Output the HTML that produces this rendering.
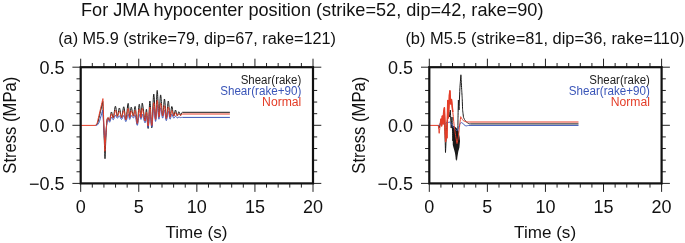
<!DOCTYPE html>
<html><head><meta charset="utf-8"><title>Stress</title>
<style>
html,body{margin:0;padding:0;background:#fff;width:685px;height:243px;overflow:hidden}
svg{display:block;font-family:"Liberation Sans", sans-serif;will-change:transform}
</style></head><body>
<svg width="685" height="243" viewBox="0 0 685 243"><rect width="685" height="243" fill="#fff"/><text x="81.0" y="15.8" font-size="18.5" textLength="462.5" lengthAdjust="spacingAndGlyphs" fill="#111">For JMA hypocenter position (strike=52, dip=42, rake=90)</text><text x="58.2" y="44.4" font-size="17.3" textLength="277.8" lengthAdjust="spacingAndGlyphs" fill="#111">(a) M5.9 (strike=79, dip=67, rake=121)</text><text x="405.4" y="44.4" font-size="17.3" textLength="279.1" lengthAdjust="spacingAndGlyphs" fill="#111">(b) M5.5 (strike=81, dip=36, rake=110)</text><path d="M95.60,125.30C95.60,125.30 96.60,124.75 97.00,124.20C97.40,123.65 98.00,122.00 98.00,122.00C98.00,122.00 102.80,101.50 102.80,101.50C102.80,101.50 105.00,158.70 105.00,158.70C105.00,158.70 106.10,130.80 106.60,124.00C107.10,117.20 107.50,118.52 108.00,117.90C108.50,117.28 109.03,121.28 109.60,120.30C110.17,119.32 110.78,112.42 111.40,112.00C112.02,111.58 112.63,118.77 113.30,117.80C113.97,116.83 114.73,106.45 115.40,106.20C116.07,105.95 116.63,116.00 117.30,116.30C117.97,116.60 118.68,107.80 119.40,108.00C120.12,108.20 120.87,117.70 121.60,117.50C122.33,117.30 123.08,106.43 123.80,106.80C124.52,107.17 125.18,120.27 125.90,119.70C126.62,119.13 127.47,103.77 128.10,103.40C128.73,103.03 129.18,116.88 129.70,117.50C130.22,118.12 130.58,107.33 131.20,107.10C131.82,106.87 132.73,116.20 133.40,116.10C134.07,116.00 134.55,105.28 135.20,106.50C135.85,107.72 136.63,123.77 137.30,123.40C137.97,123.03 138.58,105.28 139.20,104.30C139.82,103.32 140.48,117.68 141.00,117.50C141.52,117.32 141.63,102.63 142.30,103.20C142.97,103.77 144.30,119.88 145.00,120.90C145.70,121.92 145.97,108.05 146.50,109.30C147.03,110.55 147.63,129.78 148.20,128.40C148.77,127.02 149.30,101.10 149.90,101.00C150.50,100.90 151.17,128.95 151.80,127.80C152.43,126.65 153.07,95.53 153.70,94.10C154.33,92.67 155.02,119.82 155.60,119.20C156.18,118.58 156.65,90.77 157.20,90.40C157.75,90.03 158.33,116.25 158.90,117.00C159.47,117.75 159.98,95.08 160.60,94.90C161.22,94.72 161.95,115.22 162.60,115.90C163.25,116.58 163.88,98.57 164.50,99.00C165.12,99.43 165.67,118.17 166.30,118.50C166.93,118.83 167.68,101.25 168.30,101.00C168.92,100.75 169.42,116.08 170.00,117.00C170.58,117.92 171.18,106.68 171.80,106.50C172.42,106.32 173.08,115.32 173.70,115.90C174.32,116.48 174.92,110.03 175.50,110.00C176.08,109.97 176.63,115.42 177.20,115.70C177.77,115.98 178.33,111.75 178.90,111.70C179.47,111.65 180.00,115.30 180.60,115.40C181.20,115.50 180.60,112.82 182.50,112.30L229.90,112.30" fill="none" stroke="#1a1a1a" stroke-width="1.0" stroke-linejoin="round" stroke-opacity="1"/><path d="M95.60,125.30C95.60,125.30 96.88,125.35 97.50,124.80C98.12,124.25 99.30,122.00 99.30,122.00C99.30,122.00 102.70,110.00 102.70,110.00C102.70,110.00 104.90,145.00 104.90,145.00C104.90,145.00 106.08,130.27 106.60,126.00C107.12,121.73 107.50,119.99 108.00,119.36C108.50,118.73 109.03,122.54 109.60,122.20C110.17,121.86 110.78,117.71 111.40,117.30C112.02,116.88 112.63,120.04 113.30,119.70C113.97,119.36 114.73,115.52 115.40,115.27C116.07,115.02 116.63,118.09 117.30,118.20C117.97,118.31 118.68,115.70 119.40,115.90C120.12,116.10 120.87,119.47 121.60,119.40C122.33,119.33 123.08,115.11 123.80,115.48C124.52,115.84 125.18,121.80 125.90,121.60C126.62,121.40 127.47,114.65 128.10,114.29C128.73,113.92 129.18,119.18 129.70,119.40C130.22,119.62 130.58,115.81 131.20,115.58C131.82,115.35 132.73,118.03 133.40,118.00C134.07,117.97 134.55,114.15 135.20,115.37C135.85,116.59 136.63,125.43 137.30,125.30C137.97,125.17 138.58,115.58 139.20,114.60C139.82,113.62 140.48,119.46 141.00,119.40C141.52,119.34 141.63,113.65 142.30,114.22C142.97,114.78 144.30,122.54 145.00,122.80C145.70,123.06 145.97,114.95 146.50,115.75C147.03,116.55 147.63,128.36 148.20,127.60C148.77,126.84 149.30,111.28 149.90,111.19C150.50,111.09 151.17,127.63 151.80,127.00C152.43,126.37 153.07,108.32 153.70,107.39C154.33,106.46 155.02,121.74 155.60,121.40C156.18,121.06 156.65,105.72 157.20,105.36C157.75,104.99 158.33,118.79 158.90,119.20C159.47,119.61 159.98,108.01 160.60,107.83C161.22,107.65 161.95,117.72 162.60,118.10C163.25,118.48 163.88,109.65 164.50,110.09C165.12,110.52 165.67,120.52 166.30,120.70C166.93,120.88 167.68,111.44 168.30,111.19C168.92,110.94 169.42,118.70 170.00,119.20C170.58,119.70 171.18,114.39 171.80,114.21C172.42,114.03 173.08,117.78 173.70,118.10C174.32,118.42 174.92,116.17 175.50,116.14C176.08,116.10 176.63,117.74 177.20,117.90C177.77,118.06 178.33,117.12 178.90,117.07C179.47,117.02 180.00,117.54 180.60,117.60C181.20,117.66 180.60,117.43 182.50,117.40L229.90,117.40" fill="none" stroke="#3a55b8" stroke-width="1.0" stroke-linejoin="round" stroke-opacity="1"/><path d="M80.70,125.40L95.30,125.40C95.30,125.40 95.98,125.20 96.30,124.80C96.62,124.40 97.20,123.00 97.20,123.00C97.20,123.00 102.90,98.60 102.90,98.60C102.90,98.60 104.90,151.30 104.90,151.30C104.90,151.30 106.08,130.14 106.60,124.50C107.12,118.86 107.50,118.16 108.00,117.47C108.50,116.79 109.03,121.01 109.60,120.40C110.17,119.79 110.78,114.23 111.40,113.81C112.02,113.40 112.63,118.50 113.30,117.90C113.97,117.30 114.73,110.47 115.40,110.22C116.07,109.97 116.63,116.21 117.30,116.40C117.97,116.59 118.68,111.13 119.40,111.33C120.12,111.53 120.87,117.72 121.60,117.60C122.33,117.48 123.08,110.22 123.80,110.59C124.52,110.96 125.18,120.15 125.90,119.80C126.62,119.45 127.47,108.85 128.10,108.48C128.73,108.12 129.18,117.22 129.70,117.60C130.22,117.98 130.58,111.01 131.20,110.78C131.82,110.54 132.73,116.26 133.40,116.20C134.07,116.14 134.55,109.19 135.20,110.40C135.85,111.62 136.63,123.73 137.30,123.50C137.97,123.27 138.58,110.02 139.20,109.04C139.82,108.06 140.48,117.71 141.00,117.60C141.52,117.49 141.63,107.79 142.30,108.36C142.97,108.92 144.30,120.37 145.00,121.00C145.70,121.63 145.97,111.29 146.50,112.14C147.03,112.99 147.63,126.96 148.20,126.10C148.77,125.24 149.30,107.09 149.90,106.99C150.50,106.89 151.17,126.21 151.80,125.50C152.43,124.79 153.07,103.73 153.70,102.72C154.33,101.70 155.02,119.78 155.60,119.40C156.18,119.02 156.65,100.79 157.20,100.42C157.75,100.06 158.33,116.73 158.90,117.20C159.47,117.67 159.98,103.40 160.60,103.21C161.22,103.03 161.95,115.68 162.60,116.10C163.25,116.52 163.88,105.32 164.50,105.75C165.12,106.19 165.67,118.49 166.30,118.70C166.93,118.91 167.68,107.24 168.30,106.99C168.92,106.74 169.42,116.63 170.00,117.20C170.58,117.77 171.18,110.59 171.80,110.40C172.42,110.22 173.08,115.74 173.70,116.10C174.32,116.46 174.92,112.61 175.50,112.57C176.08,112.54 176.63,115.72 177.20,115.90C177.77,116.08 178.33,113.68 178.90,113.63C179.47,113.58 180.00,115.54 180.60,115.60C181.20,115.66 180.60,114.27 182.50,114.00L229.90,114.00" fill="none" stroke="#e43d28" stroke-width="1.0" stroke-linejoin="round" stroke-opacity="1"/><path d="M80.70,67.20v-8.5M80.70,183.40v8.5M92.31,67.20v-4.2M92.31,183.40v4.2M103.93,67.20v-4.2M103.93,183.40v4.2M115.55,67.20v-4.2M115.55,183.40v4.2M127.16,67.20v-4.2M127.16,183.40v4.2M138.78,67.20v-8.5M138.78,183.40v8.5M150.39,67.20v-4.2M150.39,183.40v4.2M162.00,67.20v-4.2M162.00,183.40v4.2M173.62,67.20v-4.2M173.62,183.40v4.2M185.24,67.20v-4.2M185.24,183.40v4.2M196.85,67.20v-8.5M196.85,183.40v8.5M208.47,67.20v-4.2M208.47,183.40v4.2M220.08,67.20v-4.2M220.08,183.40v4.2M231.69,67.20v-4.2M231.69,183.40v4.2M243.31,67.20v-4.2M243.31,183.40v4.2M254.93,67.20v-8.5M254.93,183.40v8.5M266.54,67.20v-4.2M266.54,183.40v4.2M278.16,67.20v-4.2M278.16,183.40v4.2M289.77,67.20v-4.2M289.77,183.40v4.2M301.38,67.20v-4.2M301.38,183.40v4.2M313.00,67.20v-8.5M313.00,183.40v8.5M80.70,67.20h-8.3M313.00,67.20h8.3M80.70,78.82h-4.2M313.00,78.82h4.2M80.70,90.44h-4.2M313.00,90.44h4.2M80.70,102.06h-4.2M313.00,102.06h4.2M80.70,113.68h-4.2M313.00,113.68h4.2M80.70,125.30h-8.3M313.00,125.30h8.3M80.70,136.92h-4.2M313.00,136.92h4.2M80.70,148.54h-4.2M313.00,148.54h4.2M80.70,160.16h-4.2M313.00,160.16h4.2M80.70,171.78h-4.2M313.00,171.78h4.2M80.70,183.40h-8.3M313.00,183.40h8.3" stroke="#222" stroke-width="1" fill="none"/><rect x="80.70" y="67.20" width="232.30" height="116.20" fill="none" stroke="#111" stroke-width="2.2"/><text x="64.50" y="73.60" font-size="18" text-anchor="end" fill="#111">0.5</text><text x="64.50" y="131.70" font-size="18" text-anchor="end" fill="#111">0.0</text><text x="64.50" y="189.80" font-size="18" text-anchor="end" fill="#111">−0.5</text><text x="80.70" y="212.8" font-size="18" text-anchor="middle" fill="#111">0</text><text x="138.78" y="212.8" font-size="18" text-anchor="middle" fill="#111">5</text><text x="196.85" y="212.8" font-size="18" text-anchor="middle" fill="#111">10</text><text x="254.93" y="212.8" font-size="18" text-anchor="middle" fill="#111">15</text><text x="313.00" y="212.8" font-size="18" text-anchor="middle" fill="#111">20</text><text x="196.50" y="237.8" font-size="17.3" text-anchor="middle" textLength="62" lengthAdjust="spacingAndGlyphs" fill="#111">Time (s)</text><text transform="translate(16.00,125.20) rotate(-90)" font-size="18" text-anchor="middle" textLength="97" lengthAdjust="spacingAndGlyphs" fill="#111">Stress (MPa)</text><text x="301.30" y="83.6" font-size="12" text-anchor="end" textLength="60.6" lengthAdjust="spacingAndGlyphs" fill="#222">Shear(rake)</text><text x="301.30" y="94.6" font-size="12" text-anchor="end" textLength="81.1" lengthAdjust="spacingAndGlyphs" fill="#3a55b8">Shear(rake+90)</text><text x="301.30" y="105.8" font-size="12" text-anchor="end" textLength="39.2" lengthAdjust="spacingAndGlyphs" fill="#e43d28">Normal</text><path d="M438.30,125.30C438.30,125.30 439.20,128.00 439.20,128.00C439.20,128.00 440.50,122.50 440.50,122.50C440.50,122.50 442.00,121.00 442.00,121.00C442.00,121.00 443.00,117.00 443.00,117.00C443.00,117.00 444.40,110.00 444.40,110.00C444.40,110.00 445.50,152.50 445.50,152.50C445.50,152.50 446.80,125.00 446.80,125.00C446.80,125.00 448.20,114.00 448.20,114.00C448.20,114.00 448.80,112.00 448.80,112.00C448.80,112.00 449.50,117.00 449.50,117.00C449.50,117.00 450.30,110.00 450.30,110.00C450.30,110.00 451.20,128.00 451.20,128.00C451.20,128.00 452.00,117.00 452.00,117.00C452.00,117.00 452.90,141.00 452.90,141.00C452.90,141.00 453.60,127.00 453.60,127.00C453.60,127.00 454.50,149.00 454.50,149.00C454.50,149.00 455.20,136.00 455.20,136.00C455.20,136.00 456.30,159.50 456.30,159.50C456.30,159.50 457.10,141.00 457.10,141.00C457.10,141.00 457.60,150.00 457.60,150.00C457.60,150.00 458.00,118.00 458.00,118.00C458.00,118.00 458.40,100.00 458.40,100.00C458.40,100.00 459.00,110.00 459.00,110.00C459.00,110.00 459.90,88.00 459.90,88.00C459.90,88.00 460.90,74.80 460.90,74.80C460.90,74.80 461.70,90.00 461.70,90.00C461.70,90.00 462.20,98.00 462.20,98.00C462.20,98.00 462.60,110.00 462.60,110.00C462.60,110.00 463.50,117.30 463.50,117.30C463.50,117.30 464.50,119.50 464.50,119.50C464.50,119.50 465.80,121.30 465.80,121.30C465.80,121.30 467.50,123.00 467.50,123.00C467.50,123.00 469.30,123.80 469.30,123.80C469.30,123.80 471.00,123.90 471.00,123.90L578.50,123.90" fill="none" stroke="#1a1a1a" stroke-width="1.0" stroke-linejoin="round" stroke-opacity="1"/><polygon points="451.6,127 452.6,132 452.8,145 454.2,150 455.5,155 456.3,159.5 456.9,161.3 457.4,157 458.3,151.5 459.4,147.5 460.0,141 459.6,137 458.4,131 456.5,128 454.5,126.5 452.8,125.5" fill="#1a1a1a"/><path d="M438.30,125.30C438.30,125.30 439.50,125.50 439.50,125.50C439.50,125.50 441.00,123.50 441.00,123.50C441.00,123.50 442.50,123.20 442.50,123.20C442.50,123.20 444.50,124.50 444.50,124.50C444.50,124.50 446.00,122.80 446.00,122.80C446.00,122.80 448.00,122.50 448.00,122.50C448.00,122.50 450.00,122.00 450.00,122.00C450.00,122.00 451.50,124.00 451.50,124.00C451.50,124.00 453.50,127.50 453.50,127.50C453.50,127.50 455.50,129.50 455.50,129.50C455.50,129.50 457.00,130.80 457.00,130.80C457.00,130.80 458.50,128.00 458.50,128.00C458.50,128.00 460.00,123.50 460.00,123.50C460.00,123.50 461.50,122.60 461.50,122.60C461.50,122.60 462.50,123.00 462.50,123.00C462.50,123.00 464.00,124.80 464.00,124.80C464.00,124.80 466.00,126.00 466.00,126.00C466.00,126.00 467.50,125.60 467.50,125.60C467.50,125.60 469.00,125.40 469.00,125.40L578.50,125.40" fill="none" stroke="#3a55b8" stroke-width="1.0" stroke-linejoin="round" stroke-opacity="1"/><path d="M429.30,125.40L438.30,125.40C438.30,125.40 439.20,133.30 439.20,133.30C439.20,133.30 440.30,124.00 440.30,124.00C440.30,124.00 441.00,119.00 441.00,119.00C441.00,119.00 441.60,126.00 441.60,126.00C441.60,126.00 442.30,116.00 442.30,116.00C442.30,116.00 443.10,124.00 443.10,124.00C443.10,124.00 443.60,113.00 443.60,113.00C443.60,113.00 444.40,107.80 444.40,107.80C444.40,107.80 445.00,125.00 445.00,125.00C445.00,125.00 445.60,141.50 445.60,141.50C445.60,141.50 446.30,131.00 446.30,131.00C446.30,131.00 446.90,138.00 446.90,138.00C446.90,138.00 447.40,118.00 447.40,118.00C447.40,118.00 447.80,100.60 447.80,100.60C447.80,100.60 448.30,118.00 448.30,118.00C448.30,118.00 448.60,112.00 448.60,112.00C448.60,112.00 449.10,104.00 449.10,104.00C449.10,104.00 449.40,95.00 449.40,95.00C449.40,95.00 449.90,90.80 449.90,90.80C449.90,90.80 450.60,104.00 450.60,104.00C450.60,104.00 451.50,99.60 451.50,99.60C451.50,99.60 452.80,112.00 452.80,112.00C452.80,112.00 454.20,126.00 454.20,126.00C454.20,126.00 455.20,133.00 455.20,133.00C455.20,133.00 456.00,138.00 456.00,138.00C456.00,138.00 457.00,143.50 457.00,143.50C457.00,143.50 458.20,138.00 458.20,138.00C458.20,138.00 459.20,130.00 459.20,130.00C459.20,130.00 460.00,122.00 460.00,122.00C460.00,122.00 460.70,116.70 460.70,116.70C460.70,116.70 462.00,119.00 462.00,119.00C462.00,119.00 463.50,120.80 463.50,120.80C463.50,120.80 465.00,121.50 465.00,121.50C465.00,121.50 467.00,121.90 467.00,121.90C467.00,121.90 470.00,122.00 470.00,122.00L578.50,122.00" fill="none" stroke="#e43d28" stroke-width="1.0" stroke-linejoin="round" stroke-opacity="1"/><path d="M440.30,124.00C440.30,124.00 441.00,119.00 441.00,119.00C441.00,119.00 441.60,126.00 441.60,126.00C441.60,126.00 442.30,116.00 442.30,116.00C442.30,116.00 443.10,124.00 443.10,124.00C443.10,124.00 443.60,113.00 443.60,113.00C443.60,113.00 444.40,107.80 444.40,107.80C444.40,107.80 445.00,125.00 445.00,125.00C445.00,125.00 445.60,141.50 445.60,141.50C445.60,141.50 446.30,131.00 446.30,131.00C446.30,131.00 446.90,138.00 446.90,138.00C446.90,138.00 447.40,118.00 447.40,118.00C447.40,118.00 447.80,100.60 447.80,100.60C447.80,100.60 448.30,118.00 448.30,118.00C448.30,118.00 448.60,112.00 448.60,112.00C448.60,112.00 449.10,104.00 449.10,104.00C449.10,104.00 449.40,95.00 449.40,95.00C449.40,95.00 449.90,90.80 449.90,90.80C449.90,90.80 450.60,104.00 450.60,104.00C450.60,104.00 451.50,99.60 451.50,99.60C451.50,99.60 452.80,112.00 452.80,112.00" fill="none" stroke="#e43d28" stroke-width="1.5" stroke-linejoin="round" stroke-opacity="1"/><path d="M429.30,67.20v-8.5M429.30,183.40v8.5M440.92,67.20v-4.2M440.92,183.40v4.2M452.53,67.20v-4.2M452.53,183.40v4.2M464.15,67.20v-4.2M464.15,183.40v4.2M475.76,67.20v-4.2M475.76,183.40v4.2M487.38,67.20v-8.5M487.38,183.40v8.5M498.99,67.20v-4.2M498.99,183.40v4.2M510.61,67.20v-4.2M510.61,183.40v4.2M522.22,67.20v-4.2M522.22,183.40v4.2M533.84,67.20v-4.2M533.84,183.40v4.2M545.45,67.20v-8.5M545.45,183.40v8.5M557.07,67.20v-4.2M557.07,183.40v4.2M568.68,67.20v-4.2M568.68,183.40v4.2M580.30,67.20v-4.2M580.30,183.40v4.2M591.91,67.20v-4.2M591.91,183.40v4.2M603.52,67.20v-8.5M603.52,183.40v8.5M615.14,67.20v-4.2M615.14,183.40v4.2M626.75,67.20v-4.2M626.75,183.40v4.2M638.37,67.20v-4.2M638.37,183.40v4.2M649.99,67.20v-4.2M649.99,183.40v4.2M661.60,67.20v-8.5M661.60,183.40v8.5M429.30,67.20h-8.3M661.60,67.20h8.3M429.30,78.82h-4.2M661.60,78.82h4.2M429.30,90.44h-4.2M661.60,90.44h4.2M429.30,102.06h-4.2M661.60,102.06h4.2M429.30,113.68h-4.2M661.60,113.68h4.2M429.30,125.30h-8.3M661.60,125.30h8.3M429.30,136.92h-4.2M661.60,136.92h4.2M429.30,148.54h-4.2M661.60,148.54h4.2M429.30,160.16h-4.2M661.60,160.16h4.2M429.30,171.78h-4.2M661.60,171.78h4.2M429.30,183.40h-8.3M661.60,183.40h8.3" stroke="#222" stroke-width="1" fill="none"/><rect x="429.30" y="67.20" width="232.30" height="116.20" fill="none" stroke="#111" stroke-width="2.2"/><text x="413.10" y="73.60" font-size="18" text-anchor="end" fill="#111">0.5</text><text x="413.10" y="131.70" font-size="18" text-anchor="end" fill="#111">0.0</text><text x="413.10" y="189.80" font-size="18" text-anchor="end" fill="#111">−0.5</text><text x="429.30" y="212.8" font-size="18" text-anchor="middle" fill="#111">0</text><text x="487.38" y="212.8" font-size="18" text-anchor="middle" fill="#111">5</text><text x="545.45" y="212.8" font-size="18" text-anchor="middle" fill="#111">10</text><text x="603.52" y="212.8" font-size="18" text-anchor="middle" fill="#111">15</text><text x="661.60" y="212.8" font-size="18" text-anchor="middle" fill="#111">20</text><text x="545.10" y="237.8" font-size="17.3" text-anchor="middle" textLength="62" lengthAdjust="spacingAndGlyphs" fill="#111">Time (s)</text><text transform="translate(364.60,125.20) rotate(-90)" font-size="18" text-anchor="middle" textLength="97" lengthAdjust="spacingAndGlyphs" fill="#111">Stress (MPa)</text><text x="649.90" y="83.6" font-size="12" text-anchor="end" textLength="60.6" lengthAdjust="spacingAndGlyphs" fill="#222">Shear(rake)</text><text x="649.90" y="94.6" font-size="12" text-anchor="end" textLength="81.1" lengthAdjust="spacingAndGlyphs" fill="#3a55b8">Shear(rake+90)</text><text x="649.90" y="105.8" font-size="12" text-anchor="end" textLength="39.2" lengthAdjust="spacingAndGlyphs" fill="#e43d28">Normal</text></svg>
</body></html>
